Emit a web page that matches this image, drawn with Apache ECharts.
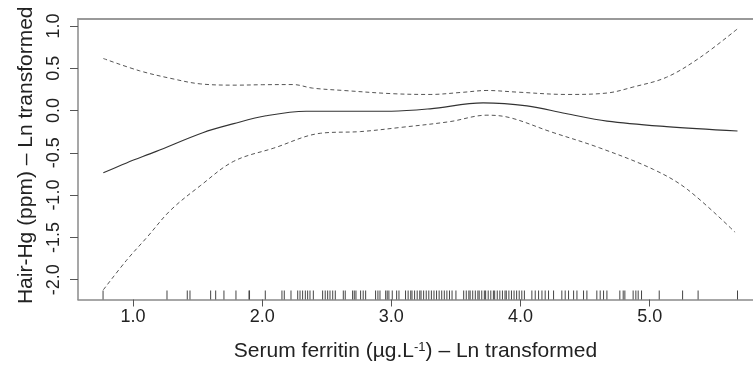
<!DOCTYPE html>
<html>
<head>
<meta charset="utf-8">
<script src="https://cdn.jsdelivr.net/npm/echarts@6/dist/echarts.min.js"></script>
<style>
html,body{margin:0;padding:0;background:#fff;}
#chart{width:753px;height:367px;}
</style>
</head>
<body>
<div id="chart"></div>
<script>
// ---- data ----
const xTicks = [1, 2, 3, 4, 5];
const yTicks = [-2, -1.5, -1, -0.5, 0, 0.5, 1];

const fitX = [0.77, 0.95, 1.18, 1.54, 1.78, 2.03, 2.34, 3.0, 3.3, 3.71, 4.05, 4.35, 4.67, 5.13, 5.68];
const fitY = [-0.736, -0.619, -0.483, -0.262, -0.155, -0.062, -0.008, -0.008, 0.02, 0.09, 0.055, -0.035, -0.125, -0.19, -0.242];

const upperX = [0.77, 1.05, 1.31, 1.52, 1.8, 2.0, 2.24, 2.39, 2.63, 3.01, 3.3, 3.55, 3.74, 3.97, 4.36, 4.67, 4.87, 5.13, 5.39, 5.68];
const upperY = [0.615, 0.47, 0.374, 0.315, 0.3, 0.305, 0.307, 0.265, 0.237, 0.199, 0.19, 0.215, 0.237, 0.218, 0.19, 0.207, 0.277, 0.393, 0.627, 0.966];

const lowerX = [0.77, 0.95, 1.11, 1.29, 1.52, 1.78, 2.09, 2.45, 2.76, 3.07, 3.45, 3.74, 3.92, 4.23, 4.61, 5.03, 5.29, 5.66];
const lowerY = [-2.12, -1.77, -1.495, -1.18, -0.89, -0.6, -0.444, -0.269, -0.249, -0.2, -0.132, -0.055, -0.085, -0.249, -0.44, -0.697, -0.93, -1.437];

const rugX = [0.768, 1.263, 1.420, 1.441, 1.601, 1.640, 1.704, 1.797, 1.898, 1.902, 2.024,
  2.153, 2.171, 2.223, 2.275, 2.293, 2.313, 2.334, 2.352, 2.370, 2.396,
  2.468, 2.488, 2.507, 2.525, 2.546, 2.566, 2.628, 2.643, 2.700, 2.713, 2.726,
  2.762, 2.782, 2.801, 2.878, 2.896, 2.912, 2.956, 2.968, 2.981, 3.007, 3.041, 3.059,
  3.11, 3.13, 3.15, 3.16, 3.18, 3.20, 3.22, 3.23, 3.25, 3.27, 3.29, 3.31, 3.33, 3.35, 3.37,
  3.39, 3.41, 3.43, 3.45, 3.47, 3.50,
  3.56, 3.58, 3.60, 3.61, 3.63, 3.65, 3.67, 3.68, 3.70, 3.72, 3.73, 3.75, 3.77, 3.79, 3.80,
  3.82, 3.84, 3.86, 3.88, 3.89, 3.91, 3.93, 3.95, 3.97, 3.99, 4.01, 4.03,
  4.088, 4.114, 4.140, 4.166, 4.191, 4.217, 4.256, 4.320, 4.346, 4.372, 4.411, 4.437,
  4.488, 4.514, 4.591, 4.617, 4.643, 4.669, 4.769, 4.795, 4.808, 4.872, 4.893, 4.911, 4.937,
  5.074, 5.255, 5.375, 5.680];

const xMin = 0.574, xMax = 5.80;
const yMin = -2.234, yMax = 1.082;

// ---- chart ----
const pairs = (xs, ys) => xs.map((x, i) => [x, ys[i]]);
const FONT = '"Liberation Sans", Arial, Helvetica, sans-serif';
const axisGray = '#8a8a8a';
const tickGray = '#555';

const chart = echarts.init(document.getElementById('chart'), null, {renderer: 'canvas'});
chart.setOption({
  animation: false,
  backgroundColor: '#fff',
  grid: {left: 78, top: 19, right: 0, bottom: 64, containLabel: false},
  xAxis: [{
    type: 'value', min: xMin, max: xMax, position: 'bottom',
    axisLine: {show: true, onZero: false, lineStyle: {color: axisGray, width: 1.5}},
    axisTick: {show: true, length: 7, customValues: xTicks, lineStyle: {color: tickGray, width: 1}},
    axisLabel: {show: true, customValues: xTicks, margin: 9, fontFamily: FONT, fontSize: 18, color: '#222',
      formatter: v => v.toFixed(1)},
    splitLine: {show: false},
    name: 'Serum ferritin (µg.L{sup|-1}) – Ln transformed',
    nameLocation: 'middle', nameGap: 41,
    nameTextStyle: {fontFamily: FONT, fontSize: 21, color: '#222',
      rich: {sup: {fontFamily: FONT, fontSize: 13, color: '#222', verticalAlign: 'top', padding: [0, 0, 9, 0]}}}
  }, {
    type: 'value', min: xMin, max: xMax, position: 'top',
    axisLine: {show: true, onZero: false, lineStyle: {color: '#999', width: 2}},
    axisTick: {show: false}, axisLabel: {show: false}, splitLine: {show: false}
  }],
  yAxis: {
    type: 'value', min: yMin, max: yMax,
    axisLine: {show: true, onZero: false, lineStyle: {color: axisGray, width: 1.5}},
    axisTick: {show: true, length: 8, customValues: yTicks, lineStyle: {color: tickGray, width: 1}},
    axisLabel: {show: true, customValues: yTicks, rotate: 90, margin: 15, fontFamily: FONT, fontSize: 18, color: '#222',
      formatter: v => v.toFixed(1)},
    splitLine: {show: false},
    name: 'Hair-Hg (ppm) – Ln transformed',
    nameLocation: 'middle', nameGap: 40,
    nameTextStyle: {fontFamily: FONT, fontSize: 21, color: '#222', padding: [0, 0, 0, 8]}
  },
  series: [
    {
      type: 'line', name: 'fit', data: pairs(fitX, fitY), smooth: 0.35, showSymbol: false,
      lineStyle: {color: '#333', width: 1.1, type: 'solid'}
    },
    {
      type: 'line', name: 'upper', data: pairs(upperX, upperY), smooth: 0.35, showSymbol: false,
      lineStyle: {color: '#555', width: 1, type: [4, 3]}
    },
    {
      type: 'line', name: 'lower', data: pairs(lowerX, lowerY), smooth: 0.35, showSymbol: false,
      lineStyle: {color: '#555', width: 1, type: [4, 3]}
    },
    {
      type: 'custom', name: 'rug', data: rugX.map(v => [v]),
      encode: {x: 0},
      renderItem: function (params, api) {
        const p = api.coord([api.value(0), yMin]);
        return {
          type: 'line',
          shape: {x1: p[0], y1: p[1], x2: p[0], y2: p[1] - 9},
          style: {stroke: '#444', lineWidth: 1}
        };
      }
    }
  ]
});
</script>
</body>
</html>
